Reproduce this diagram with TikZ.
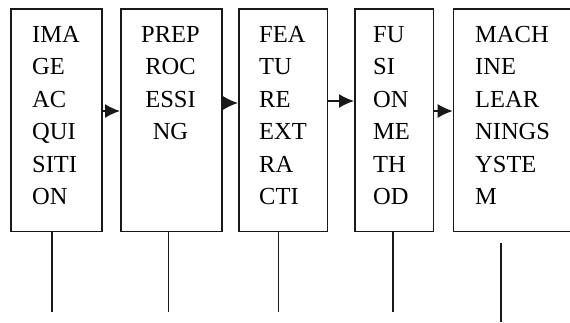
\documentclass[tikz,border=0pt]{standalone}
\usepackage{fontspec}
\setmainfont{Liberation Serif}
\usetikzlibrary{arrows.meta}
\begin{document}
\begin{tikzpicture}[x=1pt,y=-1pt,
  stagebox/.style={draw=black!90,line width=1.7pt,rectangle,inner sep=0,anchor=north west,minimum height=222.5},
  label/.style={inner sep=0,font=\fontsize{24.5}{32.5}\selectfont,text=black},
  flow/.style={draw=black!90,line width=1.5pt,-{Latex[length=15pt,width=14pt]}},
  stem/.style={draw=black!90,line width=1.6pt}]
\clip (0,0) rectangle (570,322);
\fill[white] (0,0) rectangle (570,322);
% processing stages
\node[stagebox,minimum width=91] (b1) at (10,8) {};
\node[stagebox,minimum width=101] (b2) at (120,8) {};
\node[stagebox,minimum width=88.5] (b3) at (238,8) {};
\node[stagebox,minimum width=78.5] (b4) at (354,8) {};
\node[stagebox,minimum width=117.3] (b5) at (452.7,8) {};
% stage names
\node[label,align=left,anchor=north west] (t1) at (32,26) {IMA\\GE\\AC\\QUI\\SITI\\ON};
\node[label,align=center,anchor=north] (t2) at (170.5,26) {PREP\\ROC\\ESSI\\NG};
\node[label,align=left,anchor=north west] (t3) at (259,26) {FEA\\TU\\RE\\EXT\\RA\\CTI};
\node[label,align=left,anchor=north west] (t4) at (373,26) {FU\\SI\\ON\\ME\\TH\\OD};
\node[label,align=left,anchor=north west] (t5) at (475,26) {MACH\\INE\\LEAR\\NINGS\\YSTE\\M};
% arrows between stages
\draw[flow] ([yshift=-103pt]b1.north east) -- ([yshift=-103pt]b2.north west);
\draw[flow] ([yshift=-95pt]b2.north east) -- ([yshift=-95pt]b3.north west);
\draw[flow] ([yshift=-93pt]b3.north east) -- ([yshift=-93pt]b4.north west);
\draw[flow] ([yshift=-103pt]b4.north east) -- ([yshift=-103pt]b5.north west);
% vertical stems below the stages
\draw[stem] ([xshift=42pt]b1.south west) -- ++(0,80);
\draw[stem] ([xshift=48.3pt]b2.south west) -- ++(0,80);
\draw[stem] ([xshift=40.3pt]b3.south west) -- ++(0,80);
\draw[stem] ([xshift=38.7pt]b4.south west) -- ++(0,80);
\coordinate (s5top) at (500.7,243);
\coordinate (s5bot) at (500.7,322);
\draw[stem] (s5top) -- (s5bot);
\end{tikzpicture}
\end{document}
